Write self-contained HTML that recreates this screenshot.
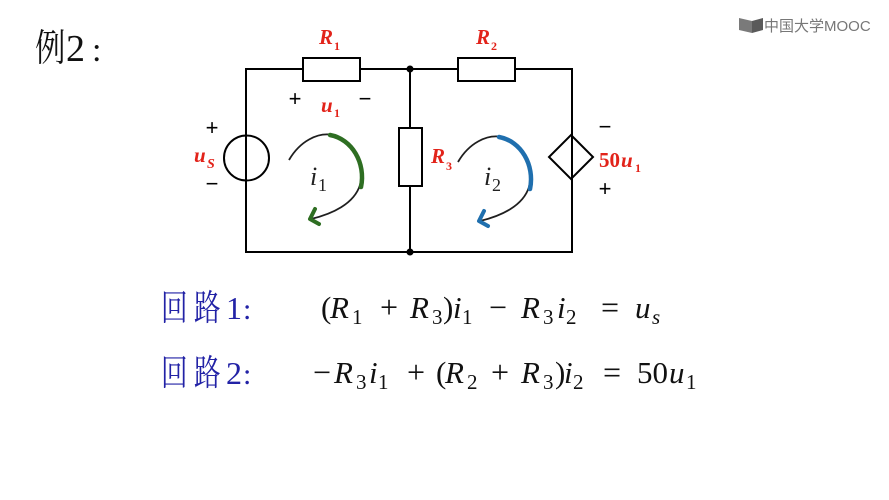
<!DOCTYPE html>
<html>
<head>
<meta charset="utf-8">
<style>
  html,body{margin:0;padding:0;background:#fff;}
  svg{display:block;}
</style>
</head>
<body>
<svg width="889" height="500" viewBox="0 0 889 500" xmlns="http://www.w3.org/2000/svg">
  <rect x="0" y="0" width="889" height="500" fill="#fff"/>

  <!-- Title -->
  <text transform="translate(35,61) scale(0.8,1)" font-family="'Liberation Serif','Noto Serif CJK SC',serif" font-size="38" fill="#111">例</text>
  <text x="66" y="61" font-family="'Liberation Serif',serif" font-size="38" fill="#111">2</text>
  <text x="92" y="61" font-family="'Liberation Serif',serif" font-size="34" fill="#111">:</text>

  <!-- Logo -->
  <g fill="#7a7a7a">
    <polygon points="739,18 752,21 752,33 739,30"/>
    <polygon points="752,21 763,18 763,30 752,33" fill="#5a5a5a"/>
  </g>
  <text x="764" y="31" font-family="'Liberation Sans','Noto Sans CJK SC',sans-serif" font-size="15" fill="#777">中国大学MOOC</text>

  <!-- Wires -->
  <g stroke="#000" stroke-width="2" fill="none">
    <line x1="246" y1="69" x2="572" y2="69"/>
    <line x1="246" y1="252" x2="572" y2="252"/>
    <line x1="246" y1="68" x2="246" y2="253"/>
    <line x1="410" y1="69" x2="410" y2="252"/>
    <line x1="572" y1="68" x2="572" y2="253"/>
  </g>
  <!-- Resistors -->
  <g stroke="#000" stroke-width="2" fill="#fff">
    <rect x="303" y="58" width="57" height="23"/>
    <rect x="458" y="58" width="57" height="23"/>
    <rect x="399" y="128" width="23" height="58"/>
  </g>
  <!-- Source circle (wire passes through) -->
  <circle cx="246.5" cy="158" r="22.5" stroke="#000" stroke-width="2" fill="none"/>
  <!-- Dependent source diamond -->
  <polygon points="571,135 593,157 571,179 549,157" stroke="#000" stroke-width="2" fill="none"/>
  <!-- Junction dots -->
  <circle cx="410" cy="69" r="3.5" fill="#000"/>
  <circle cx="410" cy="252" r="3.5" fill="#000"/>

  <!-- Red labels -->
  <g font-family="'Liberation Serif',serif" font-weight="bold" fill="#e2231a">
    <text x="319" y="44" font-size="21" font-style="italic">R</text>
    <text x="334" y="50" font-size="12">1</text>
    <text x="476" y="44" font-size="21" font-style="italic">R</text>
    <text x="491" y="50" font-size="12">2</text>
    <text x="321" y="112" font-size="21" font-style="italic">u</text>
    <text x="334" y="117" font-size="12">1</text>
    <text x="194" y="162" font-size="21" font-style="italic">u</text>
    <text x="207" y="168" font-size="14" font-style="italic">S</text>
    <text x="431" y="163" font-size="21" font-style="italic">R</text>
    <text x="446" y="170" font-size="12">3</text>
    <text x="599" y="167" font-size="21">50</text>
    <text x="621" y="167" font-size="21" font-style="italic">u</text>
    <text x="635" y="172" font-size="12">1</text>
  </g>

  <!-- +/- signs -->
  <g font-family="'Liberation Sans',sans-serif" font-size="22" fill="#000" text-anchor="middle">
    <text x="295" y="106">+</text>
    <text x="365" y="106">−</text>
    <text x="212" y="135">+</text>
    <text x="212" y="191">−</text>
    <text x="605" y="134">−</text>
    <text x="605" y="196">+</text>
  </g>

  <!-- Loop arrows -->
  <g>
    <path d="M289,160 C300,141 318,132 333,135 C353,139 366,163 360,185 C354,204 332,214 311,219" stroke="#1f1f1f" stroke-width="1.8" fill="none"/>
    <path d="M330,135 C352,139 366,163 361,187" stroke="#2e6e22" stroke-width="4.5" fill="none" stroke-linecap="round"/>
    <polyline points="315,209 310,219 319,224" stroke="#2e6e22" stroke-width="4" fill="none" stroke-linejoin="round" stroke-linecap="round"/>
  </g>
  <g transform="translate(169,2)">
    <path d="M289,160 C300,141 318,132 333,135 C353,139 366,163 360,185 C354,204 332,214 311,219" stroke="#1f1f1f" stroke-width="1.8" fill="none"/>
    <path d="M330,135 C352,139 366,163 361,187" stroke="#1f6fae" stroke-width="4.5" fill="none" stroke-linecap="round"/>
    <polyline points="315,209 310,219 319,224" stroke="#1f6fae" stroke-width="4" fill="none" stroke-linejoin="round" stroke-linecap="round"/>
  </g>

  <!-- Loop current labels -->
  <g font-family="'Liberation Serif',serif" fill="#222">
    <text x="310" y="185" font-size="26" font-style="italic">i</text>
    <text x="318" y="191" font-size="18">1</text>
    <text x="484" y="185" font-size="26" font-style="italic">i</text>
    <text x="492" y="191" font-size="18">2</text>
  </g>

  <!-- Equation labels (blue) -->
  <g font-family="'Liberation Serif','Noto Serif CJK SC',serif" fill="#2222a6">
    <text transform="translate(161,320) scale(0.74,1)" font-size="36">回</text>
    <text transform="translate(194,320) scale(0.74,1)" font-size="36">路</text>
    <text x="226" y="319" font-size="32">1</text>
    <text x="243" y="319" font-size="30">:</text>
    <text transform="translate(161,385) scale(0.74,1)" font-size="36">回</text>
    <text transform="translate(194,385) scale(0.74,1)" font-size="36">路</text>
    <text x="226" y="384" font-size="32">2</text>
    <text x="243" y="384" font-size="30">:</text>
  </g>

  <!-- Equation 1 -->
  <g font-family="'Liberation Serif',serif" fill="#111" font-size="31">
    <text x="321" y="318">(</text>
    <text x="330" y="318" font-style="italic">R</text>
    <text x="352" y="324" font-size="21">1</text>
    <text x="389" y="318" text-anchor="middle" font-size="32">+</text>
    <text x="410" y="318" font-style="italic">R</text>
    <text x="432" y="324" font-size="21">3</text>
    <text x="443" y="318">)</text>
    <text x="453" y="318" font-style="italic">i</text>
    <text x="462" y="324" font-size="21">1</text>
    <text x="498" y="318" text-anchor="middle" font-size="32">−</text>
    <text x="521" y="318" font-style="italic">R</text>
    <text x="543" y="324" font-size="21">3</text>
    <text x="557" y="318" font-style="italic">i</text>
    <text x="566" y="324" font-size="21">2</text>
    <text x="610" y="318" text-anchor="middle" font-size="32">=</text>
    <text x="635" y="318" font-style="italic">u</text>
    <text x="652" y="324" font-size="21" font-style="italic">s</text>
  </g>

  <!-- Equation 2 -->
  <g font-family="'Liberation Serif',serif" fill="#111" font-size="31">
    <text x="322" y="383" text-anchor="middle" font-size="32">−</text>
    <text x="334" y="383" font-style="italic">R</text>
    <text x="356" y="389" font-size="21">3</text>
    <text x="369" y="383" font-style="italic">i</text>
    <text x="378" y="389" font-size="21">1</text>
    <text x="416" y="383" text-anchor="middle" font-size="32">+</text>
    <text x="436" y="383">(</text>
    <text x="445" y="383" font-style="italic">R</text>
    <text x="467" y="389" font-size="21">2</text>
    <text x="500" y="383" text-anchor="middle" font-size="32">+</text>
    <text x="521" y="383" font-style="italic">R</text>
    <text x="543" y="389" font-size="21">3</text>
    <text x="555" y="383">)</text>
    <text x="564" y="383" font-style="italic">i</text>
    <text x="573" y="389" font-size="21">2</text>
    <text x="612" y="383" text-anchor="middle" font-size="32">=</text>
    <text x="637" y="383">50</text>
    <text x="669" y="383" font-style="italic">u</text>
    <text x="686" y="389" font-size="21">1</text>
  </g>
</svg>
</body>
</html>
